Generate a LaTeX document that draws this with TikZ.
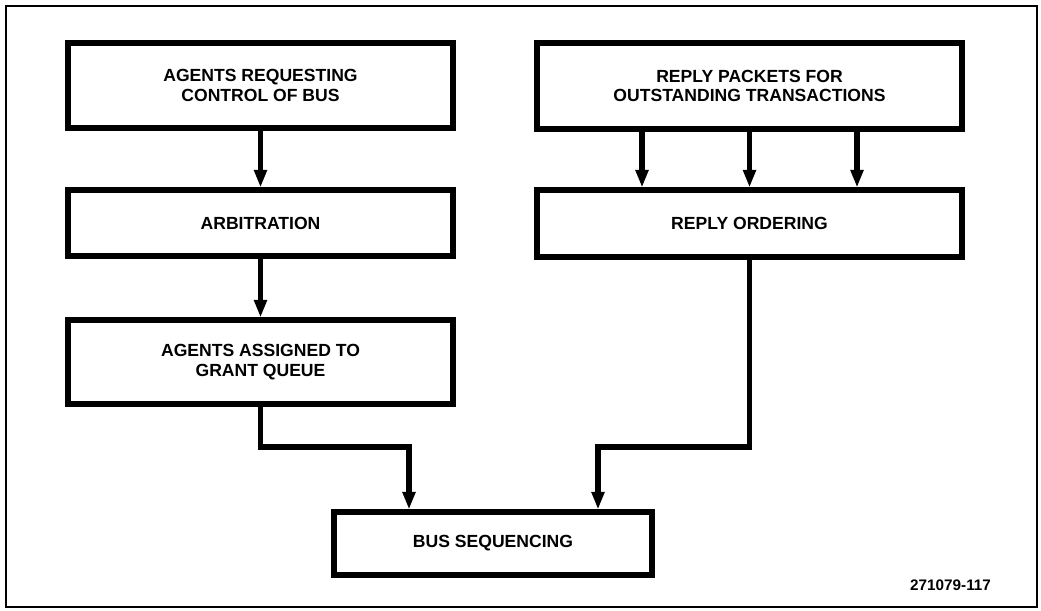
\documentclass[tikz,border=0pt]{standalone}
\usepackage{fontspec}
\setmainfont{Liberation Sans}
\usetikzlibrary{arrows.meta,calc,positioning}

\begin{document}
\begin{tikzpicture}[
    line width=2.9pt,
    every node/.style={draw,rectangle,align=center,inner sep=2pt,
      font=\fontsize{10}{11}\selectfont\bfseries},
    flow/.style={-{Triangle[length=10pt,width=7pt]}}]
    \useasboundingbox (0,0) rectangle (20.82,12.2);
    \draw[line width=1.1pt] (0.12,0.06) rectangle (20.74,12.08);
    \node[minimum width=7.7cm,minimum height=1.7cm] (b1) at (5.21,10.49) {AGENTS REQUESTING\\CONTROL OF BUS};
    \node[minimum width=7.7cm,minimum height=1.32cm] (b2) at (5.21,7.74) {ARBITRATION};
    \node[minimum width=7.7cm,minimum height=1.68cm] (b3) at (5.21,4.96) {AGENTS ASSIGNED TO\\GRANT QUEUE};
    \node[minimum width=8.5cm,minimum height=1.72cm] (b4) at (14.99,10.48) {REPLY PACKETS FOR\\OUTSTANDING TRANSACTIONS};
    \node[minimum width=8.5cm,minimum height=1.34cm] (b5) at (14.99,7.73) {REPLY ORDERING};
    \node[minimum width=6.36cm,minimum height=1.26cm] (b6) at (9.86,1.33) {BUS SEQUENCING};
    \coordinate (jl) at (8.18,3.26);
    \coordinate (jr) at (11.96,3.26);
    \draw[flow] (b1)--(b2);
    \draw[flow] (b2)--(b3);
    \draw[flow] ([xshift=-2.15cm]b4.south)--([xshift=-2.15cm]b5.north);
    \draw[flow] (b4)--(b5);
    \draw[flow] ([xshift=2.15cm]b4.south)--([xshift=2.15cm]b5.north);
    \draw[flow] (b3.south) |- (jl) -- (jl |- b6.north);
    \draw[flow] (b5.south) |- (jr) -- (jr |- b6.north);
    \node[draw=none,anchor=east,font=\fontsize{8.7}{10}\selectfont\bfseries] (fig) at (19.94,0.5) {271079-117};
\end{tikzpicture}
\end{document}
